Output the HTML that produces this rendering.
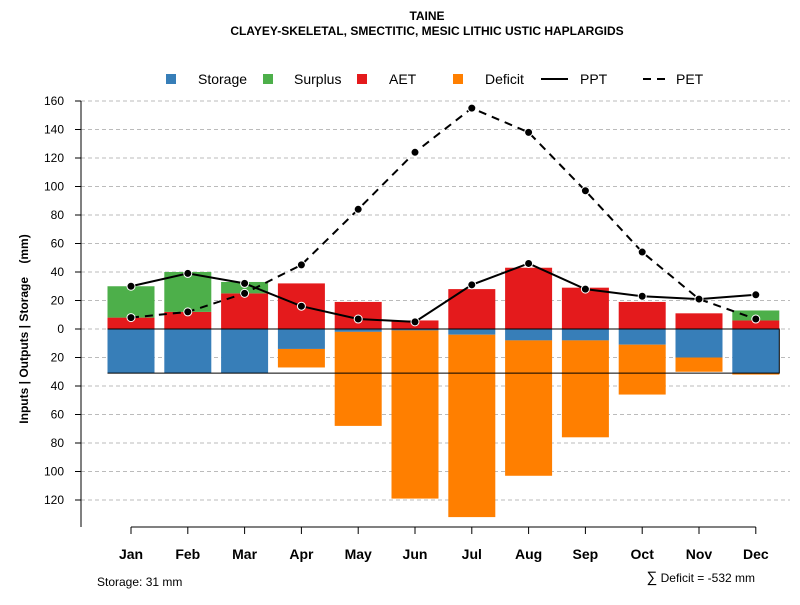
<!DOCTYPE html>
<html><head><meta charset="utf-8"><style>
body{margin:0;background:#fff}
svg text{font-family:"Liberation Sans",sans-serif}
</style></head><body>
<svg width="800" height="600" xmlns="http://www.w3.org/2000/svg">
<text x="427" y="20" text-anchor="middle" font-size="12" font-weight="bold">TAINE</text>
<text x="427" y="35" text-anchor="middle" font-size="12" font-weight="bold">CLAYEY-SKELETAL, SMECTITIC, MESIC LITHIC USTIC HAPLARGIDS</text>
<g id="legend"></g>
<g id="grid"></g>
<g id="bars"></g>
<g id="lines"></g>
<g id="axes"></g>
<text transform="translate(28,329) rotate(-90)" text-anchor="middle" font-size="12" font-weight="bold">Inputs | Outputs | Storage&#160;&#160;&#160;&#160;(mm)</text>
<text x="97" y="586" font-size="12">Storage: 31 mm</text>
<text x="755" y="582" text-anchor="end" font-size="12"><tspan font-size="15">∑</tspan> Deficit = -532 mm</text>
</svg>
<script>
const months=["Jan","Feb","Mar","Apr","May","Jun","Jul","Aug","Sep","Oct","Nov","Dec"];
const storage=[31,31,31,14,2,1,4,8,8,11,20,31];
const deficit=[0,0,0,13,66,118,128,95,68,35,10,1];
const aet=[8,12,25,32,19,6,28,43,29,19,11,6];
const surplus=[22,28,8,0,0,0,0,0,0,0,0,7];
const ppt=[30,39,32,16,7,5,31,46,28,23,21,24];
const pet=[8,12,25,45,84,124,155,138,97,54,21,7];
const yTicks=[160,140,120,100,80,60,40,20,0,-20,-40,-60,-80,-100,-120];
const capacity=31;
const NS="http://www.w3.org/2000/svg";
const y=v=>329-v*1.425;
const x=i=>131+i*56.8;
const bw=47;
function mk(p,t,a){const e=document.createElementNS(NS,t);for(const k in a)e.setAttribute(k,a[k]);p.appendChild(e);return e;}
const grid=document.getElementById('grid'),bars=document.getElementById('bars'),lines=document.getElementById('lines'),axes=document.getElementById('axes'),leg=document.getElementById('legend');
yTicks.forEach(t=>{
 const g=mk(grid,'line',{x1:81,x2:790,y1:y(t),y2:y(t),stroke:'#bbb','stroke-dasharray':'4,3'});
 
 
 const tk=mk(axes,'line',{x1:75,x2:81,y1:y(t),y2:y(t),stroke:'#000'});
 
 
 const tl=mk(axes,'text',{x:64,y:y(t)+4,'text-anchor':'end','font-size':12});
 tl.textContent=Math.abs(t);
 
 
});
const ya=mk(axes,'line',{x1:81,x2:81,y1:y(160),y2:527,stroke:'#000'});


const xa=mk(axes,'line',{x1:x(0),x2:x(11),y1:527,y2:527,stroke:'#000'});


function rect(v0,v1,i,c,n){const r=mk(bars,'rect',{x:x(i)-bw/2,y:Math.min(y(v0),y(v1)),width:bw,height:Math.abs(y(v0)-y(v1)),fill:c});
 
 }
months.forEach((m,i)=>{
 rect(0,-storage[i],i,'#377EB8','storage-bar-'+m.toLowerCase());
 rect(-storage[i],-storage[i]-deficit[i],i,'#FF7F00','deficit-bar-'+m.toLowerCase());
 rect(0,aet[i],i,'#E41A1C','aet-bar-'+m.toLowerCase());
 rect(aet[i],aet[i]+surplus[i],i,'#4DAF4A','surplus-bar-'+m.toLowerCase());
 const tk=mk(axes,'line',{x1:x(i),x2:x(i),y1:527,y2:534,stroke:'#000'});
 
 
 const t=mk(axes,'text',{x:x(i),y:559,'text-anchor':'middle','font-size':14,'font-weight':'bold'});
 t.textContent=m;
 
 
});
const box=mk(lines,'path',{d:`M${x(0)-bw/2},${y(0)}H${x(11)+bw/2}V${y(-capacity)}H${x(0)-bw/2}`,fill:'none',stroke:'#000','stroke-width':1});


function series(arr,dash,n){
 const p=mk(lines,'polyline',{points:arr.map((v,i)=>x(i)+','+y(v)).join(' '),fill:'none',stroke:'#000','stroke-width':2,'stroke-dasharray':dash});
 
 
 arr.forEach((v,i)=>{const c=mk(lines,'circle',{cx:x(i),cy:y(v),r:4,fill:'#000',stroke:'#fff','stroke-width':1});
  
  });
}
series(pet,'8,6','pet');
series(ppt,'none','ppt');
const li=[["Storage",'#377EB8',171,198],["Surplus",'#4DAF4A',268,294],["AET",'#E41A1C',362,389],["Deficit",'#FF7F00',458,485]];
li.forEach(l=>{const r=mk(leg,'rect',{x:l[2]-5,y:74,width:10,height:10,fill:l[1]});
 
 
 const t=mk(leg,'text',{x:l[3],y:84,'font-size':14});t.textContent=l[0];
 
 });
[["PPT",'none',541,580],["PET",'8,6',643,676]].forEach(l=>{
 const ln=mk(leg,'line',{x1:l[2],x2:l[2]+27,y1:79,y2:79,stroke:'#000','stroke-width':2,'stroke-dasharray':l[1]});
 
 
 const t=mk(leg,'text',{x:l[3],y:84,'font-size':14});t.textContent=l[0];
 
 });
</script>
</body></html>
